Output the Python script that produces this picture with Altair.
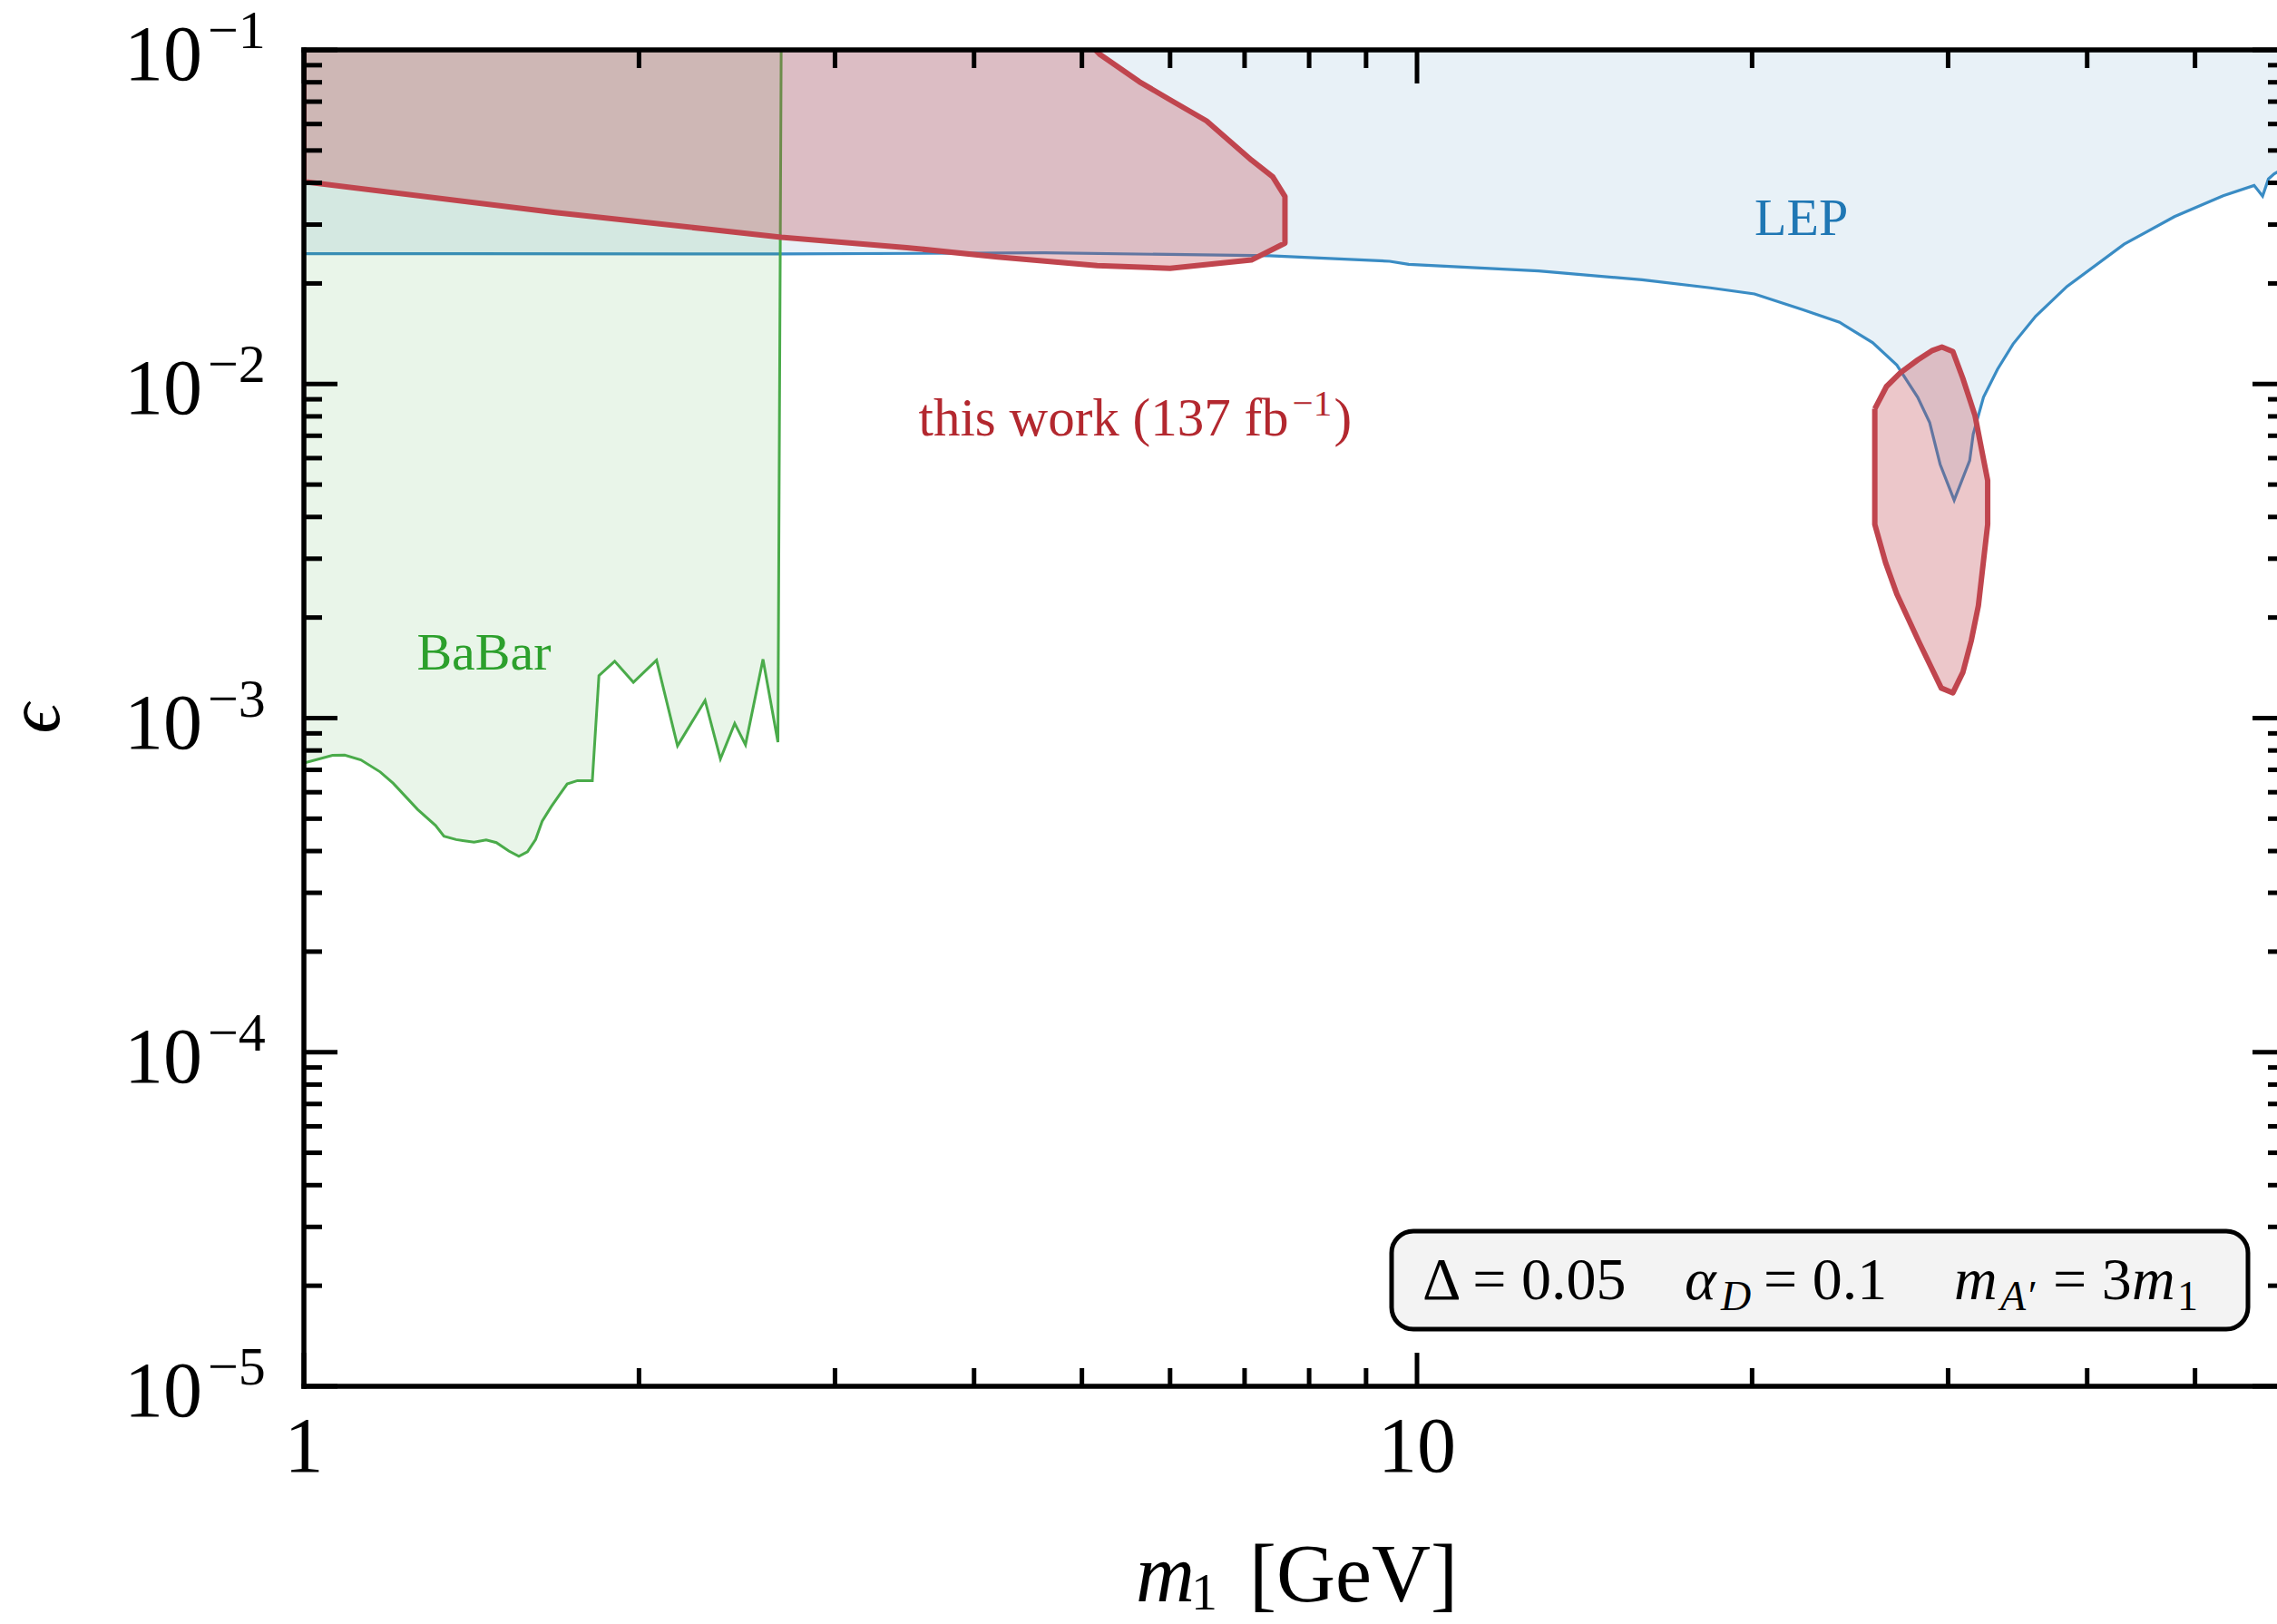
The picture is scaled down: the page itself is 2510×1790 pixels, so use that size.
import altair as alt
import pandas as pd

# ---------------- data ----------------
babar_m = [1.0, 1.061, 1.088, 1.125, 1.171, 1.203, 1.265, 1.313, 1.336, 1.370, 1.422, 1.458,
           1.489, 1.528, 1.560, 1.588, 1.615, 1.637, 1.668, 1.696, 1.724, 1.761, 1.816, 1.841,
           1.902, 1.977, 2.074, 2.166, 2.293, 2.367, 2.438, 2.493, 2.585, 2.666, 2.684]
babar_eps = [7.34e-4, 7.74e-4, 7.75e-4, 7.5e-4, 6.9e-4, 6.38e-4, 5.33e-4, 4.77e-4, 4.43e-4,
             4.33e-4, 4.25e-4, 4.32e-4, 4.24e-4, 4.0e-4, 3.86e-4, 3.98e-4, 4.33e-4, 4.91e-4,
             5.43e-4, 5.88e-4, 6.35e-4, 6.5e-4, 6.5e-4, 1.34e-3, 1.48e-3, 1.28e-3, 1.49e-3,
             8.26e-4, 1.13e-3, 7.55e-4, 9.64e-4, 8.32e-4, 1.50e-3, 8.47e-4, 1.0e-1]

lep_m = [1.0, 2.68, 4.63, 7.37, 9.45, 9.83, 12.86, 15.93, 18.34, 20.1, 22.2, 23.97, 25.66,
         26.98, 28.17, 28.88, 29.51, 30.38, 31.37, 31.6, 32.28, 33.23, 34.32, 35.96, 38.37,
         43.18, 47.92, 53.0, 56.5, 57.5, 58.2, 58.9, 60.0]
lep_eps = [2.455e-2, 2.45e-2, 2.47e-2, 2.42e-2, 2.33e-2, 2.28e-2, 2.18e-2, 2.05e-2, 1.94e-2,
           1.86e-2, 1.67e-2, 1.53e-2, 1.33e-2, 1.14e-2, 9.13e-3, 7.66e-3, 5.75e-3, 4.49e-3,
           5.9e-3, 7.08e-3, 9.13e-3, 1.107e-2, 1.318e-2, 1.596e-2, 1.96e-2, 2.62e-2, 3.17e-2,
           3.66e-2, 3.93e-2, 3.65e-2, 4.11e-2, 4.26e-2, 4.4e-2]

# "this work" excluded regions (closed outlines)
red1_m = [1.0, 1.682, 2.684, 3.48, 4.2, 5.16, 6.0, 7.10, 7.61, 7.61, 7.42, 7.10, 6.47, 6.0,
          5.63, 5.19, 5.0, 1.0, 1.0]
red1_eps = [0.0403, 0.0326, 0.0275, 0.0256, 0.0240, 0.0226, 0.0222, 0.0235, 0.0264, 0.0364,
            0.0417, 0.0468, 0.0613, 0.0709, 0.0803, 0.0969, 0.11, 0.11, 0.0403]
red2_m = [25.78, 26.41, 27.18, 28.17, 29.0, 29.62, 30.3, 30.93, 31.72, 32.56, 32.56, 31.94,
          31.48, 30.93, 30.3, 29.58, 28.27, 26.98, 26.36, 25.78, 25.78]
red2_eps = [8.43e-3, 9.83e-3, 1.08e-2, 1.18e-2, 1.257e-2, 1.29e-2, 1.25e-2, 1.04e-2, 8.04e-3,
            5.14e-3, 3.80e-3, 2.17e-3, 1.71e-3, 1.37e-3, 1.19e-3, 1.23e-3, 1.68e-3, 2.35e-3,
            2.92e-3, 3.80e-3, 8.43e-3]

x_major = [1, 10]
x_major_labels = ["1", "10"]
x_minor = [2, 3, 4, 5, 6, 7, 8, 9, 20, 30, 40, 50]
y_major = [1e-5, 1e-4, 1e-3, 1e-2, 1e-1]
y_major_exp = ["\u22125", "\u22124", "\u22123", "\u22122", "\u22121"]
y_minor = [k * 10.0 ** d for d in (-5, -4, -3, -2) for k in range(2, 10)]
EPS_TOP = 1e-1

# ---------------- layout / style ----------------
W, H = 2175, 1473
FONT = "Liberation Serif, DejaVu Serif, serif"
xs = alt.Scale(type="log", domain=[1, 59.24], nice=False)
ys = alt.Scale(type="log", domain=[1e-5, EPS_TOP], nice=False)
BLUE, GREEN, RED, REDTXT = "#1f77b4", "#2ca02c", "#c0454e", "#b3282f"
RIGHT = W + 10  # right spine lies just beyond the visible edge


def X(f="m"):
    return alt.X(f"{f}:Q", scale=xs, axis=None)


def Y(f="eps"):
    return alt.Y(f"{f}:Q", scale=ys, axis=None)


one = pd.DataFrame({"a": [0]})

lep = pd.DataFrame({"m": lep_m, "eps": lep_eps, "i": range(len(lep_m))})
lep["top"] = EPS_TOP
babar = pd.DataFrame({"m": babar_m, "eps": babar_eps, "i": range(len(babar_m))})
babar["top"] = EPS_TOP
red = pd.concat([
    pd.DataFrame({"m": red1_m, "eps": red1_eps, "i": range(len(red1_m)), "poly": "a"}),
    pd.DataFrame({"m": red2_m, "eps": red2_eps, "i": range(len(red2_m)), "poly": "b"}),
])

layers = []
layers.append(alt.Chart(lep).mark_area(color=BLUE, fillOpacity=0.1, orient="vertical", clip=True)
              .encode(x=X(), y=Y(), y2=alt.Y2("top:Q")))
layers.append(alt.Chart(lep).mark_line(color="#3a8cc4", strokeWidth=3.2, clip=True)
              .encode(x=X(), y=Y(), order="i:Q"))
layers.append(alt.Chart(babar).mark_area(color=GREEN, fillOpacity=0.1, orient="vertical", clip=True)
              .encode(x=X(), y=Y(), y2=alt.Y2("top:Q")))
layers.append(alt.Chart(babar).mark_line(color="#4aab4a", strokeWidth=3, clip=True)
              .encode(x=X(), y=Y(), order="i:Q"))
layers.append(alt.Chart(red).mark_line(stroke=RED, fill=RED, fillOpacity=0.3, strokeWidth=6,
                                       strokeJoin="round", clip=True)
              .encode(x=X(), y=Y(), order="i:Q", detail="poly:N"))


def dtext(t, m, eps, size, color, dx=0, dy=0, italic=False):
    d = pd.DataFrame({"t": [t], "m": [m], "eps": [eps]})
    return alt.Chart(d).mark_text(align="left", baseline="alphabetic", font=FONT, fontSize=size,
                                  color=color, dx=dx, dy=dy,
                                  fontStyle="italic" if italic else "normal").encode(
        x=X(), y=Y(), text="t:N")


def ptext(t, x, y, size, color="black", italic=False, align="left", angle=0, baseline="alphabetic"):
    d = pd.DataFrame({"t": [t]})
    return alt.Chart(d).mark_text(align=align, baseline=baseline, font=FONT, fontSize=size,
                                  color=color, angle=angle,
                                  fontStyle="italic" if italic else "normal").encode(
        x=alt.value(x), y=alt.value(y), text="t:N")


# region labels
layers.append(dtext("BaBar", 1.263, 1.40e-3, 58, GREEN))
layers.append(dtext("LEP", 20.1, 2.79e-2, 58, BLUE))
layers.append(dtext("this work (137 fb", 3.566, 7.01e-3, 59, REDTXT))
layers.append(dtext("\u22121", 3.566, 7.01e-3, 41, REDTXT, dx=412, dy=-22))
layers.append(dtext(")", 3.566, 7.01e-3, 59, REDTXT, dx=458))

# parameter box
layers.append(alt.Chart(one).mark_rect(fill="#f3f3f3", stroke="black", strokeWidth=5,
                                       cornerRadius=24)
              .encode(x=alt.value(1199), x2=alt.value(2143), y=alt.value(1302), y2=alt.value(1410)))
BY = 1377
layers.append(ptext("\u0394 = 0.05", 1233, BY, 66))
layers.append(ptext("\u03b1", 1522, BY, 66, italic=True))
layers.append(ptext("D", 1562, BY + 12, 46, italic=True))
layers.append(ptext("= 0.1", 1609, BY, 66))
layers.append(ptext("m", 1819, BY, 66, italic=True))
layers.append(ptext("A\u2032", 1870, BY + 12, 46, italic=True))
layers.append(ptext("= 3", 1928, BY, 66))
layers.append(ptext("m", 2015, BY, 66, italic=True))
layers.append(ptext("1", 2065, BY + 12, 46))

# ticks (inward) and frame
xmaj = pd.DataFrame({"m": x_major, "lab": x_major_labels})
xmin = pd.DataFrame({"m": x_minor})
ymaj = pd.DataFrame({"eps": y_major, "exp": y_major_exp, "base": ["10"] * len(y_major)})
ymin = pd.DataFrame({"eps": y_minor})
TK = dict(color="black", strokeWidth=5)
for df, L in ((xmaj, 37), (xmin, 20)):
    layers.append(alt.Chart(df).mark_rule(**TK).encode(x=X(), y=alt.value(H), y2=alt.value(H - L)))
    layers.append(alt.Chart(df).mark_rule(**TK).encode(x=X(), y=alt.value(0), y2=alt.value(L)))
for df, L in ((ymaj, 37), (ymin, 20)):
    layers.append(alt.Chart(df).mark_rule(**TK).encode(y=Y(), x=alt.value(0), x2=alt.value(L)))
    layers.append(alt.Chart(df).mark_rule(**TK).encode(y=Y(), x=alt.value(RIGHT), x2=alt.value(RIGHT - L)))
FR = dict(color="black", strokeWidth=5.5, strokeCap="square")
layers.append(alt.Chart(one).mark_rule(**FR).encode(x=alt.value(0), y=alt.value(0), y2=alt.value(H)))
layers.append(alt.Chart(one).mark_rule(**FR).encode(x=alt.value(0), x2=alt.value(RIGHT), y=alt.value(H)))
layers.append(alt.Chart(one).mark_rule(**FR).encode(x=alt.value(0), x2=alt.value(RIGHT), y=alt.value(0)))

# tick labels
layers.append(alt.Chart(xmaj).mark_text(align="center", baseline="alphabetic", font=FONT, fontSize=86,
                                        color="black")
              .encode(x=X(), y=alt.value(H + 94), text="lab:N"))
layers.append(alt.Chart(ymaj).mark_text(align="right", baseline="alphabetic", font=FONT, fontSize=86,
                                        color="black", dy=33)
              .encode(x=alt.value(-112), y=Y(), text="base:N"))
layers.append(alt.Chart(ymaj).mark_text(align="left", baseline="alphabetic", font=FONT, fontSize=60,
                                        color="black", dy=-2)
              .encode(x=alt.value(-106), y=Y(), text="exp:N"))

# axis titles
layers.append(ptext("m", 917, H + 237, 90, italic=True))
layers.append(ptext("1", 978, H + 246, 58))
layers.append(ptext("[GeV]", 1042, H + 237, 90))
layers.append(ptext("\u03f5", -270, 737, 82, italic=True, align="center", angle=270))

chart = alt.layer(*layers).properties(
    width=W, height=H,
    padding={"left": 335, "top": 55, "right": 0, "bottom": 262},
    autosize=alt.AutoSizeParams(type="none"),
).configure_view(strokeWidth=0)

chart.save("out.html", embed_options={"renderer": "svg", "actions": False})
